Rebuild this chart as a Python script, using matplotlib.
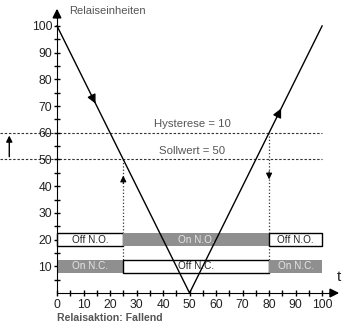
import matplotlib
matplotlib.use("Agg")
import matplotlib.pyplot as plt

plt.rcParams['font.family'] = ['Liberation Sans', 'DejaVu Sans']

# Relay units over time (falling action)
t_points = [0, 50, 100]
units = [100, 0, 100]
setpoint = 50
hysteresis = 10
t_switch_on = 25
t_switch_off = 80
t_end = 100

# relay state bars: (start, end, label, active)
no_row = [(0, 25, 'Off N.O.', False), (25, 80, 'On N.O.', True), (80, 100, 'Off N.O.', False)]
nc_row = [(0, 25, 'On N.C.', True), (25, 80, 'Off N.C.', False), (80, 100, 'On N.C.', True)]
row_levels = [20, 10]

ticks_major = list(range(0, 101, 10))
ticks_minor = list(range(5, 101, 10))

GRAY = '#8f8f8f'
TXT = '#555555'

fig = plt.figure(figsize=(3.42, 3.24), dpi=100)
ax = fig.add_axes([0, 0, 1, 1])
ax.set_xlim(-21.5, 107.5)
ax.set_ylim(-11.6, 109.7)

# axes through the origin
for side in ['top', 'right']:
    ax.spines[side].set_visible(False)
ax.spines['left'].set_position(('data', 0))
ax.spines['bottom'].set_position(('data', 0))
ax.spines['left'].set_bounds(0, 104)
ax.spines['bottom'].set_bounds(0, 104)
ax.annotate('', xy=(0, 107.5), xytext=(0, 102),
            arrowprops=dict(arrowstyle='-|>', color='black', lw=1.2, mutation_scale=13))
ax.annotate('', xy=(107.5, 0), xytext=(102, 0),
            arrowprops=dict(arrowstyle='-|>', color='black', lw=1.2, mutation_scale=13))

ax.set_xticks(ticks_major)
ax.set_xticks(ticks_minor, minor=True)
ax.set_yticks(ticks_major[1:])
ax.set_yticks(ticks_minor, minor=True)
ax.tick_params(which='both', direction='inout', length=5, width=1, labelsize=8.7,
               labelcolor='#222222')
ax.tick_params(axis='y', pad=1)
ax.tick_params(axis='x', pad=2)

# setpoint / hysteresis lines
for lvl, txt in [(setpoint, 'Sollwert = 50'), (setpoint + hysteresis, 'Hysterese = 10')]:
    ax.plot([-21.5, t_end], [lvl, lvl], ls=(0, (2.2, 1.6)), color='#333333', lw=0.8, zorder=1)
    ax.text(51, lvl + 1.3, txt, ha='center', va='bottom', fontsize=8.2, color=TXT)
ax.annotate('', xy=(-18, setpoint + hysteresis), xytext=(-18, setpoint),
            arrowprops=dict(arrowstyle='-|>', color='black', lw=1, mutation_scale=9))

# relay units line
ax.plot(t_points, units, color='black', lw=1, zorder=3)
ax.annotate('', xy=(15, 70), xytext=(12.5, 75),
            arrowprops=dict(arrowstyle='-|>', color='black', lw=1, mutation_scale=13))
ax.annotate('', xy=(85, 70), xytext=(82.5, 65),
            arrowprops=dict(arrowstyle='-|>', color='black', lw=1, mutation_scale=13))

# switching points
bar_h = 5
ax.vlines([t_switch_on, t_switch_off], row_levels[1] - bar_h / 2,
          [setpoint, setpoint + hysteresis], colors='#333333', linestyles=':', lw=0.9, zorder=1)
ax.annotate('', xy=(t_switch_on, 45), xytext=(t_switch_on, 40),
            arrowprops=dict(arrowstyle='-|>', color='black', lw=0.8, mutation_scale=9))
ax.annotate('', xy=(t_switch_off, 41.5), xytext=(t_switch_off, 46.5),
            arrowprops=dict(arrowstyle='-|>', color='black', lw=0.8, mutation_scale=9))

# relay state bars
for row, lvl in zip([no_row, nc_row], row_levels):
    for start, end, label, active in row:
        if active:
            ax.barh(lvl, end - start, left=start, height=bar_h, color=GRAY, zorder=2)
            tc = '#e6e6e6'
        else:
            ax.barh(lvl, end - start, left=start, height=bar_h, color='white',
                    edgecolor='black', lw=1, zorder=2)
            tc = '#222222'
        ax.text((start + end) / 2, lvl, label, ha='center', va='center',
                fontsize=7.2, color=tc, zorder=4)

ax.text(4.5, 105.5, 'Relaiseinheiten', ha='left', va='center', fontsize=8, color=TXT)
ax.text(105.5, 6, 't', ha='left', va='center', fontsize=11, color='#222222')
ax.text(0, -9.4, 'Relaisaktion: Fallend', ha='left', va='center', fontsize=7.6,
        fontweight='bold', color=TXT)

fig.savefig('out.png', dpi=100)
